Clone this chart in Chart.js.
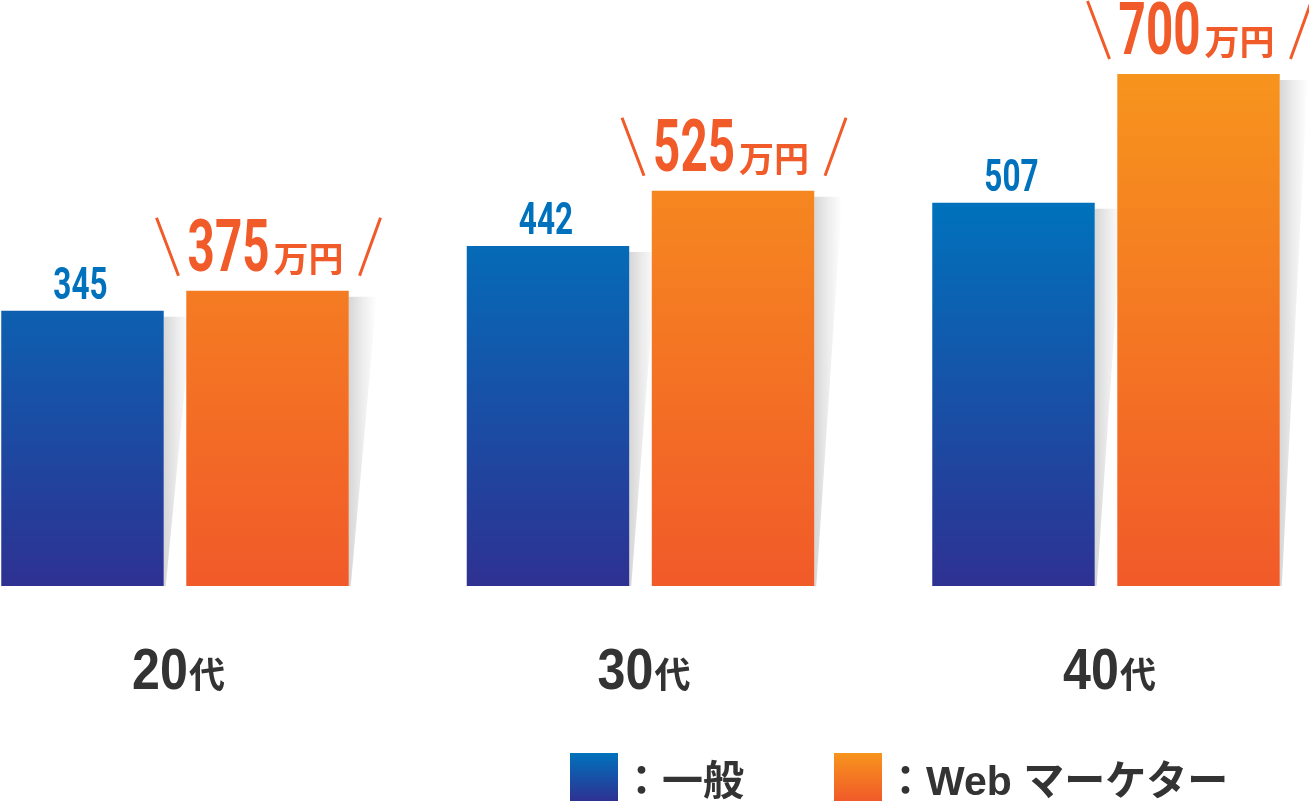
<!DOCTYPE html>
<html>
<head>
<meta charset="utf-8">
<script src="https://cdn.jsdelivr.net/npm/chart.js@4/dist/chart.umd.min.js"></script>
<style>
html,body{margin:0;padding:0;background:#fff;}
#wrap{position:relative;width:1309px;height:801px;overflow:hidden;}
#c{position:absolute;left:0;top:0;}
.leg{position:absolute;top:752px;height:49px;display:flex;align-items:center;
  font-family:"Liberation Sans","Noto Sans CJK JP",sans-serif;font-weight:bold;font-size:41px;color:#333;white-space:nowrap;}
.sw{display:inline-block;width:48px;height:48px;margin-right:3px;}
</style>
</head>
<body>
<div id="wrap">
<canvas id="c" width="1309" height="801"></canvas>
</div>
<script>
// ---- data ----
const categories = ['20代', '30代', '40代'];
const seriesNames = ['一般', 'Web マーケター'];
const generalValues = [345, 442, 507];
const marketerValues = [375, 525, 700];
const unitLabel = '万円';

// ---- styles ----
const blueTop = '#0072bc', blueBottom = '#2e3192';
const orangeTop = '#f7941d', orangeBottom = '#f15a29';
const blueText = '#0071bc', orangeText = '#f15a29';

function makeGradient(values, c1, c2) {
  let cache = null, key = '';
  return (ctx) => {
    const chart = ctx.chart;
    const area = chart.chartArea;
    if (!area) return c1;
    const y = chart.scales.y;
    const top = y.getPixelForValue(Math.max(...values));
    const k = top + ':' + area.bottom;
    if (!cache || key !== k) {
      cache = chart.ctx.createLinearGradient(0, top, 0, area.bottom);
      cache.addColorStop(0, c1);
      cache.addColorStop(1, c2);
      key = k;
    }
    return cache;
  };
}

const shadowPlugin = {
  id: 'barShadow',
  beforeDatasetsDraw(chart) {
    const ctx = chart.ctx;
    chart.data.datasets.forEach((ds, di) => {
      chart.getDatasetMeta(di).data.forEach((el) => {
        const right = el.x + el.width / 2;
        const top = el.y + 6;
        const bottom = el.base;
        const w = 28;
        const g = ctx.createLinearGradient(right, 0, right + w, 0);
        g.addColorStop(0, 'rgba(0,0,0,0.16)');
        g.addColorStop(0.5, 'rgba(0,0,0,0.07)');
        g.addColorStop(1, 'rgba(0,0,0,0)');
        ctx.save();
        ctx.beginPath();
        ctx.moveTo(right, top);
        ctx.lineTo(right + w, top);
        ctx.lineTo(right + 2, bottom);
        ctx.lineTo(right, bottom);
        ctx.closePath();
        ctx.fillStyle = g;
        ctx.fill();
        ctx.restore();
      });
    });
  }
};

function condensedText(ctx, text, x, y, font, sx) {
  ctx.save();
  ctx.font = font;
  ctx.translate(x, y);
  ctx.scale(sx, 1);
  ctx.fillText(text, 0, 0);
  ctx.restore();
}
function condensedWidth(ctx, text, font, sx) {
  ctx.save();
  ctx.font = font;
  const w = ctx.measureText(text).width * sx;
  ctx.restore();
  return w;
}

const labelPlugin = {
  id: 'valueLabels',
  afterDatasetsDraw(chart) {
    const ctx = chart.ctx;
    ctx.save();
    ctx.textAlign = 'left';
    ctx.textBaseline = 'alphabetic';
    // blue value labels
    chart.getDatasetMeta(0).data.forEach((el, i) => {
      const t = String(generalValues[i]);
      const f = 'bold 45px Roboto';
      const sx = 0.7;
      const w = condensedWidth(ctx, t, f, sx);
      ctx.fillStyle = blueText;
      condensedText(ctx, t, el.x - 2 - w / 2, el.y - 12, f, sx);
    });
    // orange value labels with slashes
    chart.getDatasetMeta(1).data.forEach((el, i) => {
      const t = String(marketerValues[i]);
      const f = 'bold 72px Roboto';
      const sx = 0.66;
      const uf = 'bold 35px "Noto Sans CJK JP"';
      const dw = condensedWidth(ctx, t, f, sx);
      ctx.font = uf;
      const uw = ctx.measureText(unitLabel).width;
      const gap = 4;
      const total = dw + gap + uw;
      const x0 = el.x - 2 - total / 2;
      const yb = el.y - 20;
      ctx.fillStyle = orangeText;
      condensedText(ctx, t, x0, yb, f, sx);
      ctx.font = uf;
      ctx.fillText(unitLabel, x0 + dw + gap, yb + 1);
      ctx.strokeStyle = orangeText;
      ctx.lineWidth = 3;
      ctx.beginPath();
      ctx.moveTo(el.x - 111, yb - 53);
      ctx.lineTo(el.x - 89, yb + 5);
      ctx.moveTo(el.x + 113, yb - 53);
      ctx.lineTo(el.x + 92, yb + 5);
      ctx.stroke();
    });
    // category labels
    const xs = chart.scales.x;
    categories.forEach((cat, i) => {
      const cx = xs.getPixelForValue(i) + 3;
      const m = cat.match(/^(\d+)(.*)$/);
      const num = m ? m[1] : cat, suf = m ? m[2] : '';
      const nf = 'bold 57px "Liberation Sans"';
      const nsx = 0.88;
      const sf = 'bold 36px "Noto Sans CJK JP"';
      const nw = condensedWidth(ctx, num, nf, nsx);
      ctx.font = sf;
      const sw = ctx.measureText(suf).width;
      const x0 = cx - (nw + sw) / 2;
      ctx.fillStyle = '#333333';
      condensedText(ctx, num, x0, 689, nf, nsx);
      ctx.font = sf;
      ctx.fillText(suf, x0 + nw + 1, 688);
    });
    ctx.restore();
  }
};

const chart = new Chart(document.getElementById('c'), {
  type: 'bar',
  data: {
    labels: categories,
    datasets: [
      {
        label: seriesNames[0],
        data: generalValues,
        backgroundColor: makeGradient(generalValues, blueTop, blueBottom),
        base: -68,
        clip: false,
        categoryPercentage: 0.795,
        barPercentage: 0.878
      },
      {
        label: seriesNames[1],
        data: marketerValues,
        backgroundColor: makeGradient(marketerValues, orangeTop, orangeBottom),
        base: -68,
        clip: false,
        categoryPercentage: 0.795,
        barPercentage: 0.878
      }
    ]
  },
  options: {
    responsive: false,
    animation: false,
    devicePixelRatio: 1,
    layout: { padding: { left: 175, right: 203, top: 0, bottom: 215 } },
    plugins: { legend: { display: false }, tooltip: { enabled: false } },
    scales: {
      x: { type: 'category', offset: false, display: false, grid: { offset: false } },
      y: { type: 'linear', min: -68, max: 811, display: false }
    }
  },
  plugins: [shadowPlugin, labelPlugin]
});

// HTML legend built from the series
const wrap = document.getElementById('wrap');
const legendLeft = [570, 834];
const legendSw = ['linear-gradient(' + blueTop + ',' + blueBottom + ')', 'linear-gradient(' + orangeTop + ',' + orangeBottom + ')'];
seriesNames.forEach((name, i) => {
  const d = document.createElement('div');
  d.className = 'leg';
  d.style.left = legendLeft[i] + 'px';
  const s = document.createElement('span');
  s.className = 'sw';
  s.style.background = legendSw[i];
  const t = document.createElement('span');
  t.textContent = '：' + name;
  d.appendChild(s);
  d.appendChild(t);
  wrap.appendChild(d);
});
</script>
</body>
</html>
